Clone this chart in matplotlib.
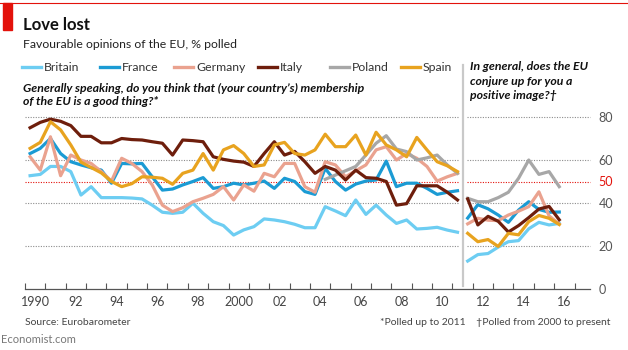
import numpy as np
import matplotlib.pyplot as plt
from matplotlib.lines import Line2D
from matplotlib.patches import Rectangle

plt.rcParams['font.family'] = ['Lato', 'DejaVu Sans']

# left panel: "is membership a good thing?", twice-yearly polls up to 2011
years_left = np.arange(1990.25, 2011.3, 0.5)
britain_left = [52.7, 53.3, 57, 57, 54.6, 43.7, 47.6, 42.5, 42.5, 42.5,
                42.3, 41.9, 39, 35.7, 35.2, 35.7, 39.9, 35.2, 31.3, 29.5,
                25.1, 27.5, 29, 32.6, 32.1, 31.3, 30.1, 28.5, 28.5, 38.3,
                36.3, 34.1, 41.4, 34.7, 39, 34.4, 30.5, 32.1, 27.9, 28.2,
                28.7, 27.4, 26.4]
france_left = [63, 65.4, 70, 63, 59.2, 57.7, 56.4, 55.3, 49.2, 58.4,
               58.2, 58.4, 52.2, 46, 46.5, 48.4, 50, 51.8, 46.8, 47.6,
               49.2, 48.4, 49.2, 50.2, 46.8, 51.5, 50, 45.3, 44, 56.1,
               50, 46, 48.8, 50.2, 50.7, 59.5, 47.6, 49.2, 49.2, 46.8,
               44, 45, 45.7]
germany_left = [61.5, 55.3, 70.8, 52.7, 62.3, 60, 58.4, 54.6, 50.2, 60.8,
                58.4, 54.6, 48.4, 39, 36, 37.8, 40.6, 42.2, 44, 47.6,
                41.4, 48.4, 45.5, 53.8, 52.2, 58.4, 58.4, 47.6, 45, 59.2,
                57.7, 52.2, 55, 57.7, 64.7, 66.2, 60, 63, 60.8, 57,
                50.2, 52.2, 53.8]
italy_left = [75, 77.5, 79, 78, 76, 71, 71, 68, 68, 70,
              69.5, 69.3, 68.5, 67.8, 62.3, 69.3, 69, 68.5, 61.5, 60.3,
              59.5, 59, 57, 63, 68.5, 62.3, 64, 59.2, 53.8, 57,
              55.3, 50.7, 55.3, 51.8, 51.5, 50, 39, 39.7, 48, 48,
              48, 45, 41.4]
spain_left = [65.4, 68.2, 77.8, 74, 67, 59, 56.5, 54, 50, 47.6,
              49, 52.2, 52, 51.5, 48.7, 53.8, 55.3, 63, 55.3, 64.7,
              66.7, 63, 57, 57.7, 67, 68.2, 63, 62.3, 64.7, 72,
              66.2, 66.2, 71.6, 62.3, 72.9, 67, 64.7, 61.5, 70.5, 64.7,
              59.2, 57.3, 54.6]
years_poland = np.arange(2004.75, 2011.3, 0.5)
poland_left = [51, 53, 55, 57, 62.3, 67.8, 71.3, 65.1, 63.9, 60,
               61, 62.3, 57.7, 53.8]

# right panel: "does the EU conjure up a positive image?"
years_right = np.arange(2011.75, 2016.3, 0.5)
britain_right = [13, 16, 16.5, 19.5, 22, 22.5, 28, 31, 29.8, 30.5]
france_right = [33, 39.2, 37.3, 34.4, 31, 36.7, 40.6, 37, 35.7, 35.8]
germany_right = [30.3, 32.9, 32, 31.8, 34.4, 36.2, 38.3, 45.2, 34, 30.2]
italy_right = [41.9, 29.8, 33.8, 31.5, 26.5, 29.5, 33.2, 37.2, 38.4, 32.2]
poland_right = [42.2, 40.6, 40.6, 42.5, 45, 51.5, 60, 53.3, 54.6, 47.6]
spain_right = [25.9, 22, 23, 19.8, 25.9, 25.2, 31.3, 34.2, 32.9, 30]

countries = ['Britain', 'France', 'Germany', 'Italy', 'Poland', 'Spain']
colours = {'Britain': '#6dcdf2', 'France': '#1b9bd4', 'Germany': '#eaa28f',
           'Italy': '#6e1e0c', 'Poland': '#a7a7a7', 'Spain': '#e8a31f'}

W, H = 628, 350
fig = plt.figure(figsize=(W / 100, H / 100), dpi=100)


def fx(px):
    return px / W


def fy(py):
    return 1 - py / H


ax = fig.add_axes([fx(25), fy(289), fx(590) - fx(25), fy(117) - fy(289)])
ax.set_xlim(1990, 2017.76)
ax.set_ylim(0, 80)

# dotted gridlines, split at the panel break
for v in [20, 40, 50, 60, 80]:
    c = '#e3120b' if v == 50 else '#8c8c8c'
    for a, b in [(1990, 2011.3), (2011.72, 2017.76)]:
        ax.hlines(v, a, b, colors=c, linestyles=(0, (1, 1.3)), lw=0.8,
                  clip_on=False, zorder=1)

ax.axvline(2011.5, ymin=0.02, ymax=1.3, color='#c9c9c9', lw=1.6,
           clip_on=False, zorder=1)

left = {'Britain': britain_left, 'France': france_left, 'Germany': germany_left,
        'Italy': italy_left, 'Spain': spain_left}
right = {'Britain': britain_right, 'France': france_right,
         'Germany': germany_right, 'Italy': italy_right,
         'Poland': poland_right, 'Spain': spain_right}

order = ['Britain', 'France', 'Germany', 'Poland', 'Italy', 'Spain']
for i, name in enumerate(order):
    if name == 'Poland':
        ax.plot(years_poland, poland_left, color=colours[name], lw=2.3, zorder=3 + i)
    else:
        ax.plot(years_left, left[name], color=colours[name], lw=2.3, zorder=3 + i)
    ax.plot(years_right, right[name], color=colours[name], lw=2.3, zorder=3 + i)

for s in ['top', 'left', 'right']:
    ax.spines[s].set_visible(False)
ax.spines['bottom'].set_color('#555555')
ax.spines['bottom'].set_linewidth(0.9)

ax.yaxis.tick_right()
ax.set_yticks([0, 20, 40, 50, 60, 80])
ax.tick_params(axis='y', length=0, pad=6, labelsize=9, labelcolor='#555555')
ax.get_yticklabels()[3].set_color('#e3120b')

ax.set_xticks(np.arange(1990, 2018))
ax.set_xticklabels([])
ax.tick_params(axis='x', which='major', direction='in', length=4, width=0.8,
               color='#555555')
xlabels = ['1990', '92', '94', '96', '98', '2000', '02', '04', '06', '08',
           '10', '12', '14', '16']
ax.set_xticks(np.arange(1990.5, 2017, 2), minor=True)
ax.set_xticklabels(xlabels, minor=True)
ax.tick_params(axis='x', which='minor', length=0, pad=5, labelsize=9,
               labelcolor='#444444')

# header
fig.add_artist(Line2D([0, 1], [fy(2.5), fy(2.5)], color='#e3120b', lw=0.8))
fig.add_artist(Rectangle((fx(3), fy(30)), fx(9), fy(3) - fy(30), color='#e3120b'))
fig.text(fx(23), fy(29.5), 'Love lost', fontsize=12, fontweight='bold',
         va='baseline', color='#111111')
fig.text(fx(23), fy(48), 'Favourable opinions of the EU, % polled', fontsize=8.8,
         va='baseline', color='#222222')

# legend
leg_x = [22, 100, 174, 258, 330, 401]
for name, x0 in zip(countries, leg_x):
    fig.add_artist(Line2D([fx(x0), fx(x0 + 19)], [fy(67), fy(67)],
                          color=colours[name], lw=2.4))
    fig.text(fx(x0 + 22), fy(71), name, fontsize=8.8, va='baseline',
             color='#333333')

fig.text(fx(23), fy(92), 'Generally speaking, do you think that (your country\u2019s) membership',
         fontsize=8.8, fontweight='bold', fontstyle='italic', va='baseline',
         color='#111111')
fig.text(fx(23), fy(105), 'of the EU is a good thing?*', fontsize=8.8,
         fontweight='bold', fontstyle='italic', va='baseline', color='#111111')

for txt, yb in [('In general, does the EU', 70), ('conjure up for you a', 85),
                ('positive image?\u2020', 99)]:
    fig.text(fx(470), fy(yb), txt, fontsize=8.8, fontweight='bold',
             fontstyle='italic', va='baseline', color='#111111')

# footer
fig.text(fx(25), fy(325), 'Source: Eurobarometer', fontsize=7.5, va='baseline',
         color='#444444')
fig.text(fx(610), fy(325), '*Polled up to 2011    \u2020Polled from 2000 to present',
         fontsize=7.5, va='baseline', ha='right', color='#444444')
fig.text(fx(1), fy(343), 'Economist.com', fontsize=8, va='baseline',
         color='#777777')

fig.savefig('out.png', dpi=100)
